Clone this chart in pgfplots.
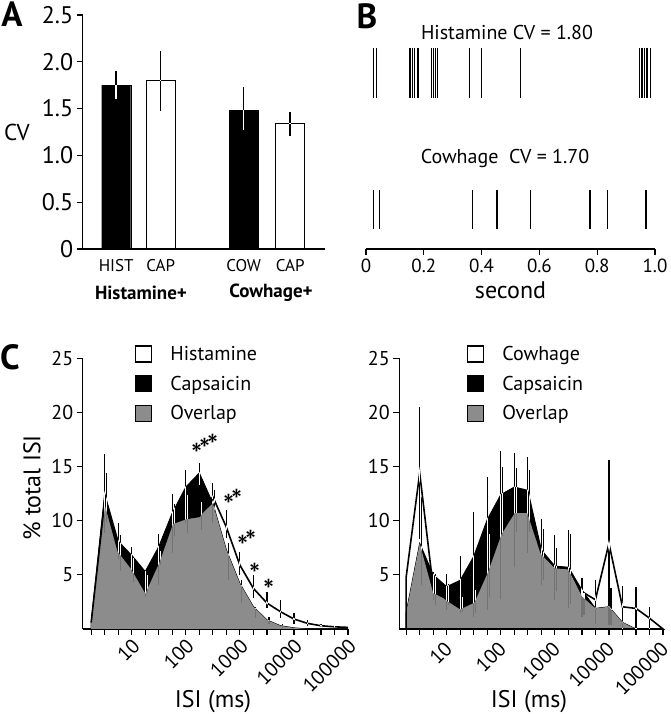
\documentclass[border=0pt]{standalone}
\usepackage{fontspec}
\setmainfont{PT Sans}
\usepackage{pgfplots}
\usepackage{pgfplotstable}
\pgfplotsset{compat=1.18}

\definecolor{ovl}{RGB}{140,140,140}
\newcommand\fs[1]{\fontsize{#1}{#1}\selectfont}

% ---------- panel C data (bins at quarter decades, ms) ----------
\pgfplotstableread{
x      H     C     O
1.778  0.6   0.6   0.6
3.162  11.8  12.5  11.8
5.623  7.2   8.1   7.2
10     5.6   6.8   5.6
17.78  3.45  5.3   3.45
31.62  6.2   7.6   6.2
56.23  9.75  10.7  9.75
100    10.2  13.1  10.2
177.8  10.4  14.4  10.4
316.2  12.2  11.6  11.6
562.3  9.4   7.3   7.3
1000   5.9   4.2   4.2
1778   3.75  2.06  2.06
3162   2.4   0.83  0.83
5623   1.6   0.3   0.3
10000  0.92  0.1   0.1
17783  0.52  0     0
31623  0.3   0     0
56234  0.2   0     0
100000 0.15  0     0
}\histtab
\pgfplotstableread{
x      H     C     O
1.778  4.8   1.5   1.5
3.162  14.4  7.9   7.9
5.623  3.8   5.0   3.3
10     2.7   3.9   2.7
17.78  1.9   4.5   1.9
31.62  2.5   6.7   2.5
56.23  5.3   10.1  5.3
100    8.8   12.4  8.8
177.8  10.8  13.1  10.8
316.2  10.8  12.8  10.8
562.3  7.0   7.3   6.9
1000   5.75  5.8   5.6
1778   5.6   5.7   5.5
3162   3.45  3.6   3.0
5623   2.7   1.9   1.9
10000  7.9   2.05  2.05
17783  2.05  0.6   0.6
31623  1.9   0     0
56234  1.0   0     0
100000 0     0     0
}\cowtab
% error bars: x, centre, half length
\pgfplotstableread{
x      m      e
3.162  12.55  3.65
5.623  8.15   1.65
10     6.4    1.2
17.78  4.2    1.2
31.62  6.45   2.35
56.23  9.75   2.75
100    12.25  2.45
177.8  14.3   1.0
316.2  11.65  1.85
562.3  9.7    1.3
1000   6.05   1.05
1778   3.95   1.05
3162   2.65   0.75
5623   1.85   0.85
10000  1.0    0.5
17783  0.52   0.27
31623  0.32   0.17
56234  0.2    0.1
}\histerrA
\pgfplotstableread{
x      m      e
3.45   12.15  2.25
6.13   7.05   1.65
10.9   5.45   1.15
19.4   4.15   0.85
34.5   6.55   0.65
61.3   10.05  1.45
109    10.65  1.75
193.8  10.4   1.3
344.7  11.8   1.0
612.9  6.2    1.7
1090   3.45   1.05
1938   1.53   0.53
3447   0.8    0.3
6129   0.3    0.2
}\histerrB
\pgfplotstableread{
x      m      e
3.162  14.4   6.1
5.623  4.0    1.3
10     3.43   1.68
17.78  4.08   2.63
31.62  5.95   4.85
56.23  7.88   6.13
100    9.6    6.8
177.8  10.98  5.23
316.2  11.45  4.45
562.3  7.15   3.05
1000   5.7    3.0
1778   5.5    3.6
3162   2.9    1.8
5623   2.5    2.0
10000  8.0    7.6
17783  2.0    2.0
31623  1.95   1.95
56234  1.0    1.0
}\cowerrA
\pgfplotstableread{
x      m      e
3.45   8.15   4.05
6.13   3.65   1.45
10.9   3.2    1.0
19.4   2.3    0.7
34.5   2.55   1.05
61.3   5.9    2.9
109    11.8   3.2
193.8  11.95  2.95
344.7  11.85  2.85
612.9  6.85   2.35
1090   5.5    2.0
1938   5.55   3.25
3447   2.3    1.0
10900  2.08   1.68
}\cowerrB

\pgfplotsset{
  base/.style={scale only axis, clip=false,
    axis line style={line width=1.2pt, -},
    tick style={line width=1.2pt, black},
    major tick length=6pt, tick align=outside},
  errb/.style={draw=none, mark=none, forget plot,
    error bars/y dir=both, error bars/y explicit, error bars/error mark=none,
    error bars/error bar style={draw=white, line width=1.2pt, blend mode=difference}},
  lgH/.style={legend image code/.code={\draw[line width=1.2pt, fill=white] (0pt,-8pt) rectangle (16pt,8pt);}},
  lgC/.style={legend image code/.code={\draw[line width=1.2pt, fill=black] (0pt,-8pt) rectangle (16pt,8pt);}},
  lgO/.style={legend image code/.code={\draw[line width=1.2pt, fill=ovl] (0pt,-8pt) rectangle (16pt,8pt);}},
}
\newcommand\sigast{*\kern-0.06em}

\begin{document}
\begin{tikzpicture}[x=1pt,y=1pt]
\useasboundingbox (0,0) rectangle (670,714);
\fill[white] (0,0) rectangle (670,714);

% ================= Panel A =================
\begin{axis}[base, at={(82.7pt,465pt)}, anchor=south west,
  width=242pt, height=234pt, xmin=0, xmax=242, ymin=0, ymax=2.5,
  axis x line*=bottom, axis y line*=left,
  ytick={0,0.5,1,1.5,2,2.5}, yticklabels={0,0.5,1.0,1.5,2.0,2.5},
  yticklabel style={font=\fs{24}},
  xtick={33.5,78,161,207.5}, xticklabels={HIST,CAP,COW,CAP},
  x tick style={draw=none},
  xticklabel style={font=\fs{17}, yshift=-1pt}]
\addplot[ybar, bar shift=0pt, bar width=29pt, fill=black, draw=black]
  coordinates {(33.5,1.75) (161,1.48)};
\addplot[ybar, bar shift=0pt, bar width=29pt, fill=white, draw=black, line width=1.2pt]
  coordinates {(78,1.80) (207.5,1.34)};
\addplot[draw=none, mark=none, forget plot,
    error bars/y dir=both, error bars/y explicit, error bars/error mark=none,
    error bars/error bar style={draw=white, line width=1.5pt, blend mode=difference}]
  coordinates {
  (33.5,1.75) += (0,0.15) -= (0,0.15)
  (78,1.80)   += (0,0.31) -= (0,0.33)
  (161,1.48)  += (0,0.25) -= (0,0.21)
  (207.5,1.34) += (0,0.12) -= (0,0.13)};
\end{axis}
\node[font=\fs{23}] at (17,582) {CV};
\node[font=\bfseries\fs{19}] at (141,421) {Histamine+};
\node[font=\bfseries\fs{19}] at (271,421) {Cowhage+};
\node[font=\bfseries\fs{35}] at (12,700) {A};

% ================= Panel B =================
\begin{axis}[base, at={(366pt,465pt)}, anchor=south west,
  width=289pt, height=234pt, xmin=0, xmax=1, ymin=0, ymax=234,
  axis x line*=bottom, axis y line=none,
  xtick={0,0.2,0.4,0.6,0.8,1}, xticklabels={0,0.2,0.4,0.6,0.8,1.0},
  xticklabel style={font=\fs{19}},
  xlabel={second}, xlabel style={font=\fs{24}, yshift=-3pt}]
\addplot[only marks, mark=|, mark size=25pt, mark options={line width=0.9pt}] coordinates {
  (0.025,176) (0.037,176) (0.149,176) (0.155,176) (0.161,176) (0.169,176)
  (0.177,176) (0.183,176) (0.227,176) (0.233,176) (0.240,176) (0.248,176)
  (0.358,176) (0.400,176) (0.535,176) (0.946,176) (0.952,176) (0.957,176)
  (0.963,176) (0.969,176) (0.975,176) (0.983,176)};
\addplot[only marks, mark=|, mark size=19.5pt, mark options={line width=1.2pt}] coordinates {
  (0.027,39.5) (0.046,39.5) (0.369,39.5) (0.453,39.5) (0.569,39.5)
  (0.772,39.5) (0.778,39.5) (0.835,39.5) (0.969,39.5)};
\end{axis}
\node[font=\fs{20}] at (507,681) {Histamine CV = 1.80};
\node[font=\fs{20}] at (505,555) {Cowhage\ \ CV = 1.70};
\node[font=\bfseries\fs{35}] at (367,698) {B};

% ================= Panel C left =================
\begin{axis}[base, xmode=log, at={(82.7pt,85pt)}, anchor=south west,
  width=265.3pt, height=270.8pt, xmin=1.239, xmax=100000, ymin=0, ymax=25,
  axis x line*=bottom, axis y line*=left,
  xtick={1.778,3.162,5.623,10,17.78,31.62,56.23,100,177.8,316.2,562.3,1000,1778,3162,5623,10000,17783,31623,56234,100000},
  xticklabels={,,,10,,,,100,,,,1000,,,,10000,,,,100000},
  ytick={5,10,15,20,25}, yticklabels={5,10,15,20,25},
  xticklabel style={rotate=45, anchor=north east, font=\fs{20}, inner sep=1pt, xshift=-1pt},
  yticklabel style={font=\fs{20}},
  legend cell align=left,
  legend style={draw=none, fill=none, font=\fs{20}, anchor=north west,
    row sep=10pt, column sep=16pt, at={(0.186,1.06)}}]
\addlegendimage{lgH}\addlegendentry{Histamine}
\addlegendimage{lgC}\addlegendentry{Capsaicin}
\addlegendimage{lgO}\addlegendentry{Overlap}
\addplot[fill=black, draw=black, line width=1pt, forget plot] table[x=x,y=C] {\histtab} \closedcycle;
\addplot[fill=ovl, draw=none, forget plot] table[x=x,y=O] {\histtab} \closedcycle;
\addplot[draw=black, line width=1.6pt, forget plot] table[x=x,y=H] {\histtab};
\addplot[errb] table[x=x, y=m, y error=e] {\histerrA};
\addplot[errb] table[x=x, y=m, y error=e] {\histerrB};
\addplot[only marks, mark=*, mark size=0pt, mark options={opacity=0}, forget plot,
  nodes near coords, point meta=explicit symbolic,
  every node near coord/.append style={anchor=center, rotate=30, font=\fs{32}, inner sep=0pt, opacity=1}]
  coordinates {(262,16.6)[{\sigast\sigast*}] (885,11.7)[{\sigast*}] (1570,7.9)[{\sigast*}] (2262,5.1)[*] (4106,3.65)[*]};
\end{axis}
\node[font=\fs{24}, rotate=90] at (32,226) {\% total ISI};
\node[font=\fs{24}] at (213,12) {ISI (ms)};
\node[font=\bfseries\fs{35}] at (10,357) {C};

% ================= Panel C right =================
\begin{axis}[base, xmode=log, at={(399.3pt,85pt)}, anchor=south west,
  width=263.7pt, height=270.8pt, xmin=1.327, xmax=100000, ymin=0, ymax=25,
  axis x line*=bottom, axis y line*=left,
  xtick={1.778,3.162,5.623,10,17.78,31.62,56.23,100,177.8,316.2,562.3,1000,1778,3162,5623,10000,17783,31623,56234,100000},
  xticklabels={,,,10,,,,100,,,,1000,,,,10000,,,,100000},
  ytick={5,10,15,20,25}, yticklabels={5,10,15,20,25},
  xticklabel style={rotate=45, anchor=north east, font=\fs{20}, inner sep=1pt, xshift=-5pt},
  yticklabel style={font=\fs{20}},
  legend cell align=left,
  legend style={draw=none, fill=none, font=\fs{20}, anchor=north west,
    row sep=10pt, column sep=16pt, at={(0.245,1.06)}}]
\addlegendimage{lgH}\addlegendentry{Cowhage}
\addlegendimage{lgC}\addlegendentry{Capsaicin}
\addlegendimage{lgO}\addlegendentry{Overlap}
\addplot[fill=black, draw=black, line width=1pt, forget plot] table[x=x,y=C] {\cowtab} \closedcycle;
\addplot[fill=ovl, draw=none, forget plot] table[x=x,y=O] {\cowtab} \closedcycle;
\addplot[draw=black, line width=1.6pt, forget plot] table[x=x,y=H] {\cowtab} \closedcycle;
\addplot[errb] table[x=x, y=m, y error=e] {\cowerrA};
\addplot[errb] table[x=x, y=m, y error=e] {\cowerrB};
\end{axis}
\node[font=\fs{24}] at (529,12) {ISI (ms)};
\end{tikzpicture}
\end{document}
